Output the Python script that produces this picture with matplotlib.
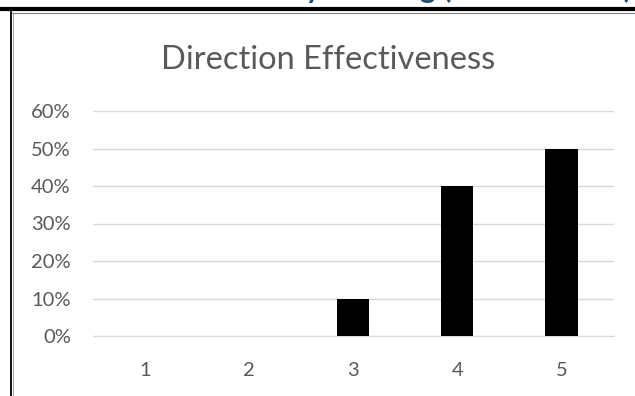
import numpy as np
import matplotlib
matplotlib.use("Agg")
import matplotlib.pyplot as plt
from matplotlib.lines import Line2D
from matplotlib.ticker import PercentFormatter

# data
ratings = ["1", "2", "3", "4", "5"]
shares = [0.0, 0.0, 0.10, 0.40, 0.50]
y_ticks = [0.0, 0.1, 0.2, 0.3, 0.4, 0.5, 0.6]

W, H = 635, 396
plt.rcParams['font.family'] = ['Lato', 'DejaVu Sans']

fig = plt.figure(figsize=(W / 100, H / 100), dpi=100)

def fx(px):
    return px / W

def fy(py):
    return 1 - py / H

# page bits around the embedded chart (heading is cut off at the top)
fig.text(fx(632), fy(-2), "Direction Effectiveness by Ranking (Scale of 1 - 5)",
         ha='right', va='baseline', fontsize=21.5, fontweight='bold', color='#1F4E79')
fig.add_artist(Line2D([0, 1], [fy(9), fy(9)], color='black', lw=3.0))
fig.add_artist(Line2D([fx(10.5), 1], [fy(12.5), fy(12.5)], color='#7f7f7f', lw=0.8))
fig.add_artist(Line2D([fx(10.5), fx(10.5)], [fy(11), 0], color='black', lw=1.3))
fig.add_artist(Line2D([fx(12.5), fx(12.5)], [fy(12.5), 0], color='#9a9a9a', lw=0.6))

# plot area
left, right, top, bottom = 93, 613.5, 111, 336
ax = fig.add_axes([fx(left), fy(bottom), fx(right - left), (bottom - top) / H])

x = np.arange(len(ratings))
ax.bar(x, shares, width=0.31, color='black', zorder=3)

ax.set_xlim(-0.5, len(ratings) - 0.5)
ax.set_ylim(0, 0.6)
ax.set_yticks(y_ticks)
ax.yaxis.set_major_formatter(PercentFormatter(1.0, decimals=0))
ax.set_xticks(x)
ax.set_xticklabels(ratings)
ax.grid(axis='y', color='#d9d9d9', lw=1.0, zorder=0)
for s in ['top', 'right', 'left']:
    ax.spines[s].set_visible(False)
ax.spines['bottom'].set_color('#d9d9d9')
ax.tick_params(axis='both', length=0, labelsize=14.5, colors='#595959')
ax.tick_params(axis='y', pad=16)
ax.tick_params(axis='x', pad=19)

fig.text(fx(328), fy(60), "Direction Effectiveness", ha='center', va='center',
         fontsize=23.5, color='#595959')

fig.savefig("out.png", dpi=100)
